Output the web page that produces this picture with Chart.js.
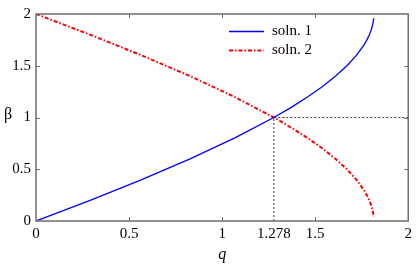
<!DOCTYPE html>
<html>
<head>
<meta charset="utf-8">
<script src="https://cdn.jsdelivr.net/npm/chart.js@4"></script>
<style>
  html, body { margin: 0; padding: 0; background: #fff; }
  #wrap { width: 416px; height: 264px; }
</style>
</head>
<body>
<div id="wrap"><canvas id="betaChart" width="416" height="264"></canvas></div>
<script>
// values (both curves share the q samples)
var qValues = [0, 0.2909, 0.5681, 0.8277, 1.0657, 1.278, 1.3733, 1.4607, 1.5397, 1.6098, 1.6705, 1.7213, 1.7617, 1.7778, 1.7912, 1.8017, 1.8092, 1.8138, 1.8145];
var soln1 = [0, 0.2, 0.4, 0.6, 0.8, 1.0, 1.1, 1.2, 1.3, 1.4, 1.5, 1.6, 1.7, 1.75, 1.8, 1.85, 1.9, 1.95, 1.96];
var soln2 = [2, 1.8, 1.6, 1.4, 1.2, 1.0, 0.9, 0.8, 0.7, 0.6, 0.5, 0.4, 0.3, 0.25, 0.2, 0.15, 0.1, 0.05, 0.04];
var guideQ = [1.278, 1.278, 2];
var guideBeta = [0, 1, 1];
var xTicks = [0, 0.5, 1, 1.278, 1.5, 2];
var xMarks = [0.5, 1, 1.5];
var yTicks = [0, 0.5, 1, 1.5, 2];
var yMarks = [0.5, 1, 1.5];
var seriesNames = ["soln. 1", "soln. 2"];

function toPoints(xs, ys) {
    return xs.map(function (x, i) { return { x: x, y: ys[i] }; });
}

var serif = "'Liberation Serif', 'Times New Roman', serif";
var frameColor = "#6e6e6e";

// frame, inward tick marks, legend and upright beta label
var decorPlugin = {
    id: "decor",
    afterDatasetsDraw: function (chart) {
        var ctx = chart.ctx;
        var a = chart.chartArea;
        var xs = chart.scales.x, ys = chart.scales.y;
        ctx.save();
        ctx.strokeStyle = frameColor;
        ctx.lineWidth = 1;
        xMarks.forEach(function (v) {
            var px = Math.round(xs.getPixelForValue(v)) + 0.5;
            ctx.beginPath();
            ctx.moveTo(px, a.bottom); ctx.lineTo(px, a.bottom - 4);
            ctx.moveTo(px, a.top); ctx.lineTo(px, a.top + 4);
            ctx.stroke();
        });
        yMarks.forEach(function (v) {
            var py = Math.round(ys.getPixelForValue(v)) + 0.5;
            ctx.beginPath();
            ctx.moveTo(a.left, py); ctx.lineTo(a.left + 4, py);
            ctx.moveTo(a.right, py); ctx.lineTo(a.right - 4, py);
            ctx.stroke();
        });
        ctx.lineWidth = 1.5;
        ctx.strokeRect(a.left, a.top, a.right - a.left, a.bottom - a.top);

        // legend
        var ds = chart.data.datasets;
        var rows = [31.5, 50.5];
        ctx.font = "15px " + serif;
        ctx.textBaseline = "middle";
        ctx.textAlign = "left";
        for (var i = 0; i < 2; i++) {
            ctx.strokeStyle = ds[i].borderColor;
            ctx.lineWidth = ds[i].borderWidth;
            ctx.setLineDash(ds[i].borderDash || []);
            ctx.beginPath();
            ctx.moveTo(229, rows[i]); ctx.lineTo(264, rows[i]);
            ctx.stroke();
            ctx.setLineDash([]);
            ctx.fillStyle = "#000";
            ctx.fillText(seriesNames[i], 272, rows[i]);
        }

        // y axis label, upright
        ctx.font = "16px " + serif;
        ctx.textAlign = "center";
        ctx.fillText("\u03b2", 8, ys.getPixelForValue(1) - 3);
        ctx.restore();
    }
};

var chart = new Chart(document.getElementById("betaChart"), {
    type: "line",
    data: {
        datasets: [{
            label: seriesNames[0],
            data: toPoints(qValues, soln1),
            borderColor: "#0000ff",
            borderWidth: 1.3,
            pointRadius: 0,
            tension: 0
        }, {
            label: seriesNames[1],
            data: toPoints(qValues, soln2),
            borderColor: "#ff0000",
            borderWidth: 2,
            borderDash: [4, 2, 1.5, 2],
            pointRadius: 0,
            tension: 0
        }, {
            label: "guide",
            data: toPoints(guideQ, guideBeta),
            borderColor: "#000",
            borderWidth: 0.8,
            borderDash: [2, 2],
            pointRadius: 0
        }]
    },
    options: {
        responsive: false,
        animation: false,
        layout: { padding: { top: 3, right: 4, left: 0, bottom: 0 } },
        plugins: {
            legend: { display: false },
            tooltip: { enabled: false }
        },
        scales: {
            x: {
                type: "linear",
                min: 0,
                max: 2,
                afterBuildTicks: function (axis) {
                    axis.ticks = xTicks.map(function (v) { return { value: v }; });
                },
                afterFit: function (axis) { axis.height = 43; },
                ticks: {
                    autoSkip: false,
                    maxRotation: 0,
                    padding: 4,
                    color: "#000",
                    font: { family: serif, size: 15 },
                    callback: function (v) { return String(v); }
                },
                grid: { display: false, drawTicks: false },
                border: { display: false },
                title: {
                    display: true,
                    text: "q",
                    color: "#000",
                    padding: { top: 0, bottom: 0 },
                    font: { family: serif, size: 16, style: "italic" }
                }
            },
            y: {
                type: "linear",
                min: 0,
                max: 2,
                afterBuildTicks: function (axis) {
                    axis.ticks = yTicks.map(function (v) { return { value: v }; });
                },
                afterFit: function (axis) { axis.width = 36; },
                ticks: {
                    padding: 5,
                    color: "#000",
                    font: { family: serif, size: 15 },
                    callback: function (v) { return String(v); }
                },
                grid: { display: false, drawTicks: false },
                border: { display: false }
            }
        }
    },
    plugins: [decorPlugin]
});
</script>
</body>
</html>
